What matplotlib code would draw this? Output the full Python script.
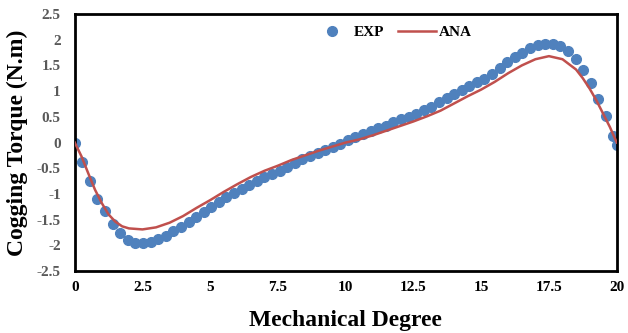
import matplotlib
matplotlib.use("Agg")
import matplotlib.pyplot as plt


exp_deg = [
    0.00, 0.28, 0.56, 0.84, 1.12, 1.40, 1.68, 1.96, 2.24, 2.52,
    2.80, 3.08, 3.36, 3.64, 3.92, 4.20, 4.48, 4.76, 5.04, 5.32,
    5.60, 5.88, 6.16, 6.44, 6.72, 7.00, 7.28, 7.56, 7.84, 8.12,
    8.40, 8.68, 8.96, 9.24, 9.52, 9.80, 10.08, 10.36, 10.64, 10.92,
    11.20, 11.48, 11.76, 12.04, 12.32, 12.60, 12.88, 13.16, 13.44, 13.72,
    14.00, 14.28, 14.56, 14.84, 15.12, 15.40, 15.68, 15.96, 16.24, 16.52,
    16.80, 17.08, 17.36, 17.64, 17.92, 18.20, 18.48, 18.76, 19.04, 19.32,
    19.60, 19.88, 20.00,
]
exp_torque = [
    0.00, -0.38, -0.75, -1.09, -1.34, -1.58, -1.76, -1.89, -1.95, -1.96,
    -1.93, -1.88, -1.81, -1.73, -1.64, -1.55, -1.45, -1.35, -1.26, -1.15,
    -1.06, -0.98, -0.90, -0.82, -0.75, -0.68, -0.61, -0.55, -0.47, -0.40,
    -0.33, -0.27, -0.20, -0.14, -0.08, -0.02, 0.04, 0.10, 0.17, 0.23,
    0.28, 0.33, 0.39, 0.45, 0.50, 0.56, 0.63, 0.70, 0.78, 0.86,
    0.94, 1.02, 1.10, 1.17, 1.24, 1.34, 1.45, 1.56, 1.67, 1.75,
    1.83, 1.89, 1.92, 1.92, 1.87, 1.78, 1.63, 1.41, 1.16, 0.85,
    0.51, 0.12, -0.04,
]

# analytical (ANA) curve
ana_deg = [
    0.0, 0.25, 0.5, 0.75, 1.0, 1.25, 1.5, 1.75, 2.0, 2.5,
    3.0, 3.5, 4.0, 4.5, 5.0, 5.5, 6.0, 6.5, 7.0, 7.5,
    8.0, 8.5, 9.0, 9.5, 10.0, 10.5, 11.0, 11.5, 12.0, 12.5,
    13.0, 13.5, 14.0, 14.5, 15.0, 15.5, 16.0, 16.5, 17.0, 17.5,
    18.0, 18.5, 18.75, 19.0, 19.25, 19.5, 19.75, 20.0,
]
ana_torque = [
    0.00, -0.27, -0.60, -0.92, -1.18, -1.40, -1.54, -1.63, -1.67, -1.69,
    -1.65, -1.56, -1.43, -1.27, -1.12, -0.96, -0.81, -0.67, -0.55, -0.45,
    -0.34, -0.25, -0.16, -0.08, 0.00, 0.06, 0.14, 0.23, 0.32, 0.41,
    0.51, 0.62, 0.76, 0.90, 1.03, 1.18, 1.35, 1.50, 1.62, 1.68,
    1.62, 1.42, 1.25, 1.05, 0.82, 0.56, 0.30, 0.00,
]

x_ticks = [0, 2.5, 5, 7.5, 10, 12.5, 15, 17.5, 20]
x_tick_labels = ["0", "2.5", "5", "7.5", "10", "12.5", "15", "17.5", "20"]
y_ticks = [-2.5, -2, -1.5, -1, -0.5, 0, 0.5, 1, 1.5, 2, 2.5]
y_tick_labels = ["-2.5", "-2", "-1.5", "-1", "-0.5", "0", "0.5", "1", "1.5", "2", "2.5"]

plt.rcParams["font.family"] = ["Liberation Serif", "DejaVu Serif"]
plt.rcParams["font.weight"] = "bold"

fig = plt.figure(figsize=(6.28, 3.33), dpi=100)
ax = fig.add_axes([0.119, 0.186, 0.863, 0.772])

ax.plot(exp_deg, exp_torque, linestyle="none", marker="o",
        markersize=7, color="#4F81BD", label="EXP", zorder=2)
ax.plot(ana_deg, ana_torque, color="#C0504D", linewidth=1.8,
        label="ANA", zorder=3)

ax.set_xlim(0, 20)
ax.set_ylim(-2.5, 2.5)
ax.set_xticks(x_ticks)
ax.set_xticklabels(x_tick_labels, fontsize=11, fontweight="bold", color="black")
ax.set_yticks(y_ticks)
ax.set_yticklabels(y_tick_labels, fontsize=11, fontweight="bold", color="#595959")
ax.tick_params(axis="x", length=0, pad=7)
ax.tick_params(axis="y", length=0, pad=10)

for spine in ax.spines.values():
    spine.set_linewidth(2)
    spine.set_color("black")

ax.set_xlabel("Mechanical Degree", fontsize=17, fontweight="bold", labelpad=12)
ax.set_ylabel("Cogging Torque (N.m)", fontsize=17, fontweight="bold", labelpad=6)

ax.legend(loc="center", bbox_to_anchor=(0.586, 0.928), ncol=2, frameon=False,
          prop={"weight": "bold", "size": 11}, handlelength=2.55,
          columnspacing=0.85, handletextpad=0.16)

fig.savefig("out.png", dpi=100)
